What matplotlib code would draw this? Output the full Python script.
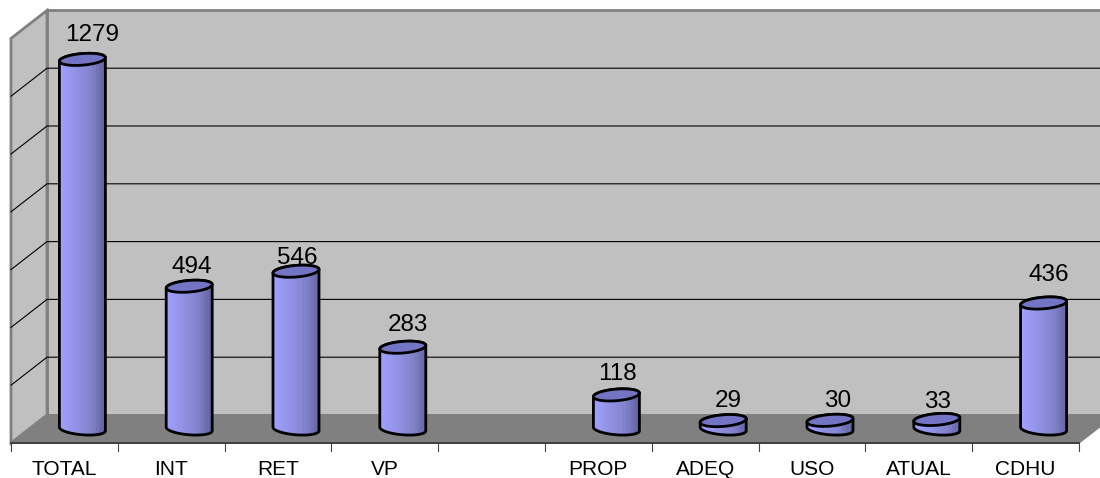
import numpy as np
from matplotlib import pyplot as plt
from matplotlib.colors import LinearSegmentedColormap
from matplotlib.patches import Polygon

plt.rcParams['font.family'] = ['Liberation Sans', 'DejaVu Sans']

# data
labels = ['TOTAL', 'INT', 'RET', 'VP', '', 'PROP', 'ADEQ', 'USO', 'ATUAL', 'CDHU']
values = [1279, 494, 546, 283, None, 118, 29, 30, 33, 436]
y_ticks = [0, 200, 400, 600, 800, 1000, 1200, 1400]

# value labels were moved by hand in the original: offset from the bar top, in pixels
label_lift = [18, 13, 7, 16, 0, 15, 14, 13, 11, 22]
label_shift = [9.5, 2.5, 1, 5, 0, 1.5, 5.5, 7.5, 1, 5]

# layout, pixels of the 1100x478 picture
W, H = 1100, 478
X0, Y0 = 11, 443
PX_CAT = 106.8
PX_VAL = 57.8 / 200
DX, DY = 36 / PX_CAT, 28 / PX_VAL
BAR_W = 23 / PX_CAT
BAR_H = 5.8 / PX_VAL
BAR_TILT = 1.8 / PX_VAL

n = len(labels)
xmax = n
ymax = y_ticks[-1]

fig = plt.figure(figsize=(W / 100, H / 100), dpi=100)
ax = fig.add_axes([0, 0, 1, 1])

wall = '#C0C0C0'
edge = '#808080'

# back wall, left wall, floor
ax.add_patch(Polygon([(DX, DY), (DX, ymax + DY), (xmax + DX, ymax + DY), (xmax + DX, DY)],
                     fc=wall, ec=edge, lw=2, zorder=1))
ax.add_patch(Polygon([(0, 0), (DX, DY), (DX, ymax + DY), (0, ymax)],
                     fc=wall, ec=edge, lw=2, zorder=1))
for t in y_ticks[1:-1]:
    ax.plot([0, DX, xmax + DX], [t, t + DY, t + DY], color='black', lw=0.8, zorder=2)
ax.add_patch(Polygon([(0, 0), (DX, DY), (xmax + DX, DY), (xmax, 0)],
                     fc=edge, ec=edge, lw=1, zorder=3))

# front axis line and ticks
ax.plot([0, xmax], [0, 0], color='#404040', lw=1.4, zorder=4)
for i in range(n + 1):
    ax.plot([i, i], [0, -8 / PX_VAL], color='#404040', lw=0.8, zorder=4)

shade = LinearSegmentedColormap.from_list('cyl', ['#A0A0FF', '#9696EC', '#8C8CDC', '#8080C8', '#6464A4'])
bands = np.linspace(0, 1, 16).reshape(1, -1)

t_arc = np.linspace(0, np.pi, 60)

for i, v in enumerate(values):
    if v is None:
        continue
    cx = i + 0.5 + DX / 2
    base = DY / 2
    top = base + v
    # bottom arc runs left to right, top arc right to left along the back
    bx = cx - BAR_W * np.cos(t_arc)
    by = base - BAR_H * np.sin(t_arc) + BAR_TILT * np.cos(t_arc)
    tx = cx + BAR_W * np.cos(t_arc)
    ty = top + BAR_H * np.sin(t_arc) + BAR_TILT * np.cos(t_arc)
    body = Polygon(np.column_stack([np.r_[bx, tx], np.r_[by, ty]]),
                   fc='none', ec='black', lw=2, zorder=6, joinstyle='round')
    ax.add_patch(body)
    im = ax.imshow(bands, cmap=shade, aspect='auto', interpolation='nearest',
                   extent=(cx - BAR_W, cx + BAR_W, base - 2 * BAR_H, top + 2 * BAR_H), zorder=5)
    im.set_clip_path(body)

    tt = np.linspace(0, 2 * np.pi, 90)
    cap = Polygon(np.column_stack([cx + BAR_W * np.cos(tt),
                                   top + BAR_H * np.sin(tt) + BAR_TILT * np.cos(tt)]),
                  fc='#7474C4', ec='black', lw=2, zorder=7)
    ax.add_patch(cap)

    ax.text(cx + label_shift[i] / PX_CAT, top + label_lift[i] / PX_VAL, str(v),
            ha='center', va='baseline', fontsize=17.5, color='black', zorder=8)

for i, lab in enumerate(labels):
    ax.text(i + 0.5, -32 / PX_VAL, lab, ha='center', va='baseline', fontsize=15, color='black')

ax.set_xlim(-X0 / PX_CAT, (W - X0) / PX_CAT)
ax.set_ylim(-(H - Y0) / PX_VAL, Y0 / PX_VAL)
ax.axis('off')

fig.savefig('out.png', dpi=100)
